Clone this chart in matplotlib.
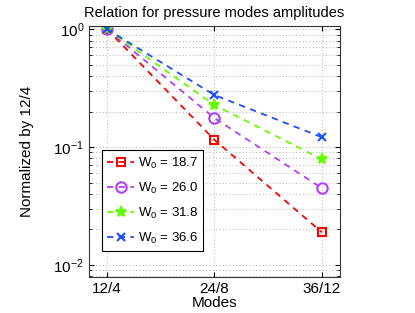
import matplotlib
matplotlib.use("Agg")
import matplotlib.pyplot as plt
from matplotlib.ticker import NullFormatter, LogLocator

plt.rcParams["font.family"] = ["Liberation Sans", "DejaVu Sans"]
plt.rcParams["mathtext.fontset"] = "custom"
plt.rcParams["mathtext.rm"] = "Liberation Sans"
plt.rcParams["mathtext.it"] = "Liberation Sans"

# Data
modes = ["12/4", "24/8", "36/12"]
w0_labels = ["18.7", "26.0", "31.8", "36.6"]
amp_187 = [1.0, 0.115, 0.0189]
amp_260 = [1.0, 0.176, 0.0447]
amp_318 = [1.0, 0.227, 0.0787]
amp_366 = [1.0, 0.276, 0.121]

series = [amp_187, amp_260, amp_318, amp_366]
colors = ["#ff0000", "#b040ff", "#66ff00", "#1f4dff"]
markers = ["s", "o", "*", "x"]

fig = plt.figure(figsize=(4.15, 3.13), dpi=100)
ax = fig.add_axes([0.2145, 0.115, 0.6045, 0.803])

x = range(1, len(modes) + 1)
for vals, c, m, lab in zip(series, colors, markers, w0_labels):
    mfc = "none" if m in ("s", "o") else c
    ms = {"s": 6, "o": 7.5, "*": 8, "x": 6}[m]
    ax.plot(x, vals, linestyle=(0, (3.5, 3)), color=c, marker=m, markersize=ms,
            markerfacecolor=mfc, markeredgecolor=c, markeredgewidth=1.5, linewidth=1.3,
            label=r"$\mathrm{W_0}$ = " + lab)

ax.set_yscale("log")
ax.set_xlim(0.833, 3.167)
ax.set_ylim(0.0079, 1.07)
ax.set_xticks(list(x))
ax.set_xticklabels(modes)
ax.yaxis.set_major_locator(LogLocator(base=10, numticks=10))
ax.yaxis.set_minor_locator(LogLocator(base=10, subs=range(2, 10), numticks=10))
ax.yaxis.set_minor_formatter(NullFormatter())

ax.grid(True, which="major", linestyle=(0, (1, 3)), color="#999999", linewidth=0.6)
ax.grid(True, which="minor", axis="y", linestyle=(0, (1, 3)), color="#999999", linewidth=0.6)
ax.tick_params(which="both", direction="in", top=True, right=True, labelsize=11)
for s in ax.spines.values():
    s.set_color("#333333")

ax.set_title("Relation for pressure modes amplitudes", fontsize=10.5, pad=6)
ax.set_xlabel("Modes", fontsize=11, labelpad=0)
ax.set_ylabel("Normalized by 12/4", fontsize=11, labelpad=14)

leg = ax.legend(loc="lower left", bbox_to_anchor=(0.052, 0.103), borderaxespad=0,
                fancybox=False, edgecolor="black", framealpha=1, fontsize=9.5,
                handlelength=2.0, handletextpad=0.3, borderpad=0.4, labelspacing=0.75)
leg.get_frame().set_linewidth(0.8)

fig.savefig("out.png", dpi=100)
